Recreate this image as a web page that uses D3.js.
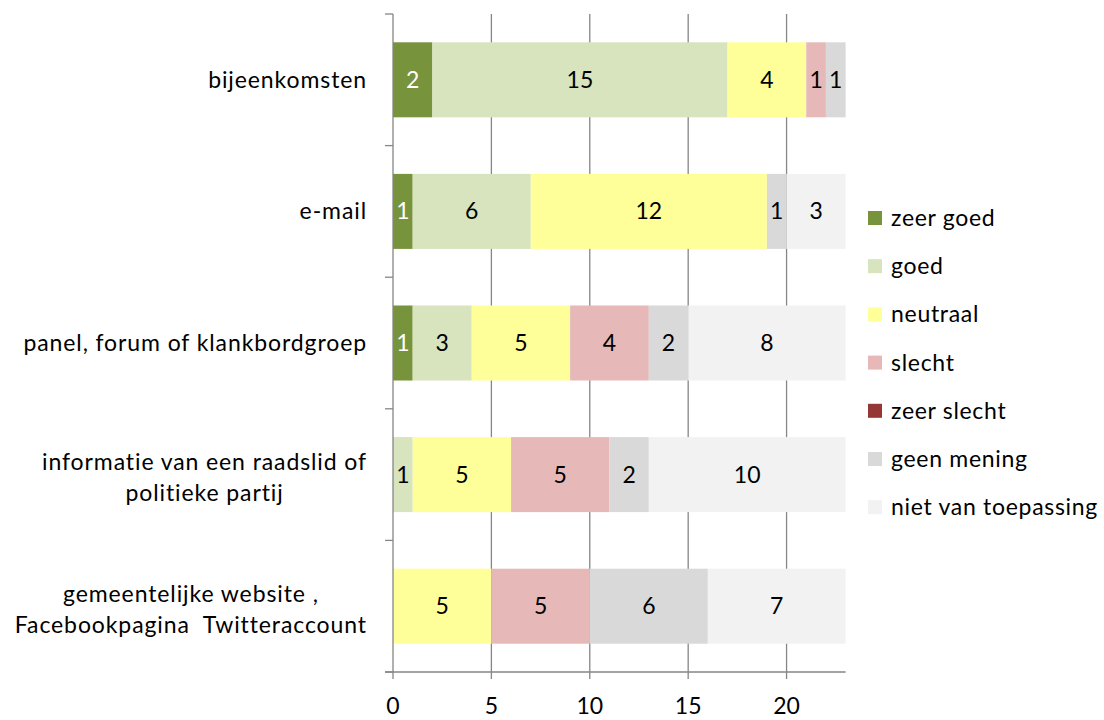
<!DOCTYPE html>
<html>
<head>
<meta charset="utf-8">
<script src="https://cdn.jsdelivr.net/npm/d3@7"></script>
<style>
  body { margin: 0; background: #fff; }
  text { font-family: "Lato", "Open Sans", sans-serif; fill: #000; white-space: pre; }
</style>
</head>
<body>
<div id="chart"></div>
<script>
// categories, top to bottom
var categories = [
  ["bijeenkomsten"],
  ["e-mail"],
  ["panel, forum of klankbordgroep"],
  ["informatie van een raadslid of", "politieke partij"],
  ["gemeentelijke website ,", "Facebookpagina  Twitteraccount"]
];

var seriesNames = ["zeer goed", "goed", "neutraal", "slecht", "zeer slecht", "geen mening", "niet van toepassing"];
var seriesColors = ["#77933C", "#D7E4BD", "#FFFF99", "#E6B9B8", "#953735", "#D9D9D9", "#F2F2F2"];

// one array per series, in category order
var zeerGoed   = [2, 1, 1, 0, 0];
var goed       = [15, 6, 3, 1, 0];
var neutraal   = [4, 12, 5, 5, 5];
var slecht     = [1, 0, 4, 5, 5];
var zeerSlecht = [0, 0, 0, 0, 0];
var geenMening = [1, 1, 2, 2, 6];
var nietVanToepassing = [0, 3, 8, 10, 7];

var xTicks = [0, 5, 10, 15, 20];
var xMax = 23;

var seriesValues = [zeerGoed, goed, neutraal, slecht, zeerSlecht, geenMening, nietVanToepassing];

var W = 1104, H = 720;
var plotLeft = 393, plotRight = 845.6, plotTop = 14, plotBottom = 672;
var fontSize = "23px";

var svg = d3.select("#chart").append("svg").attr("width", W).attr("height", H);

var x = d3.scaleLinear().domain([0, xMax]).range([plotLeft, plotRight]);
var y = d3.scaleBand().domain(d3.range(categories.length)).range([plotTop, plotBottom])
  .paddingInner(0.43).paddingOuter(0.215);

// gridlines (behind the bars), extending below the axis like tick marks
svg.append("g").selectAll("line")
  .data(xTicks.slice(1))
  .enter().append("line")
  .attr("x1", function(d) { return x(d); }).attr("x2", function(d) { return x(d); })
  .attr("y1", plotTop).attr("y2", plotBottom + 7)
  .attr("stroke", "#868686").attr("stroke-width", 1.3);

// stacked bars
var rows = categories.map(function(c, i) {
  var o = {};
  seriesNames.forEach(function(s, k) { o[s] = seriesValues[k][i]; });
  return o;
});
var stacked = d3.stack().keys(seriesNames)(rows);

stacked.forEach(function(layer, k) {
  var g = svg.append("g");
  layer.forEach(function(seg, i) {
    var v = seg[1] - seg[0];
    if (v <= 0) return;
    g.append("rect")
      .attr("x", x(seg[0])).attr("y", y(i))
      .attr("width", x(seg[1]) - x(seg[0])).attr("height", y.bandwidth())
      .attr("fill", seriesColors[k]);
    g.append("text")
      .attr("x", (x(seg[0]) + x(seg[1])) / 2)
      .attr("y", y(i) + y.bandwidth() / 2)
      .attr("dy", ".35em")
      .attr("text-anchor", "middle")
      .style("font-size", fontSize)
      .style("fill", k === 0 ? "#fff" : "#000")
      .text(v);
  });
});

// y axis line and category ticks
var axisColor = "#868686";
svg.append("line").attr("x1", plotLeft).attr("x2", plotLeft).attr("y1", plotTop).attr("y2", plotBottom + 7)
  .attr("stroke", axisColor).attr("stroke-width", 1.3);
var bandStep = (plotBottom - plotTop) / categories.length;
svg.append("g").selectAll("line")
  .data(d3.range(categories.length + 1))
  .enter().append("line")
  .attr("x1", plotLeft - 8).attr("x2", plotLeft)
  .attr("y1", function(d) { return plotTop + d * bandStep; })
  .attr("y2", function(d) { return plotTop + d * bandStep; })
  .attr("stroke", axisColor).attr("stroke-width", 1.3);

// x axis
svg.append("line").attr("x1", plotLeft - 8).attr("x2", plotRight).attr("y1", plotBottom).attr("y2", plotBottom)
  .attr("stroke", axisColor).attr("stroke-width", 1.3);
svg.append("g").selectAll("text")
  .data(xTicks)
  .enter().append("text")
  .attr("x", function(d) { return x(d); })
  .attr("y", 706)
  .attr("dy", ".35em")
  .attr("text-anchor", "middle")
  .style("font-size", fontSize)
  .text(function(d) { return d; });

// category labels: block right-aligned, lines centred
var labelRight = 367, lineGap = 31;
categories.forEach(function(lines, i) {
  var g = svg.append("g");
  var cy = y(i) + y.bandwidth() / 2 + (lines.length > 1 ? 3 : 0);
  var texts = lines.map(function(l, j) {
    return g.append("text")
      .attr("y", cy + (j - (lines.length - 1) / 2) * lineGap)
      .attr("dy", ".35em")
      .attr("text-anchor", "middle")
      .style("font-size", fontSize)
      .style("letter-spacing", "0.9px")
      .text(l);
  });
  var maxW = d3.max(texts, function(t) { return t.node().getComputedTextLength(); });
  texts.forEach(function(t) { t.attr("x", labelRight - maxW / 2); });
});

// legend
var legend = svg.append("g");
seriesNames.forEach(function(s, k) {
  var ly = 218 + k * 48.2;
  legend.append("rect").attr("x", 868).attr("y", ly - 7).attr("width", 14).attr("height", 14)
    .attr("fill", seriesColors[k]);
  legend.append("text").attr("x", 891).attr("y", ly).attr("dy", ".35em")
    .style("font-size", fontSize)
    .style("letter-spacing", "0.7px")
    .text(s);
});
</script>
</body>
</html>
